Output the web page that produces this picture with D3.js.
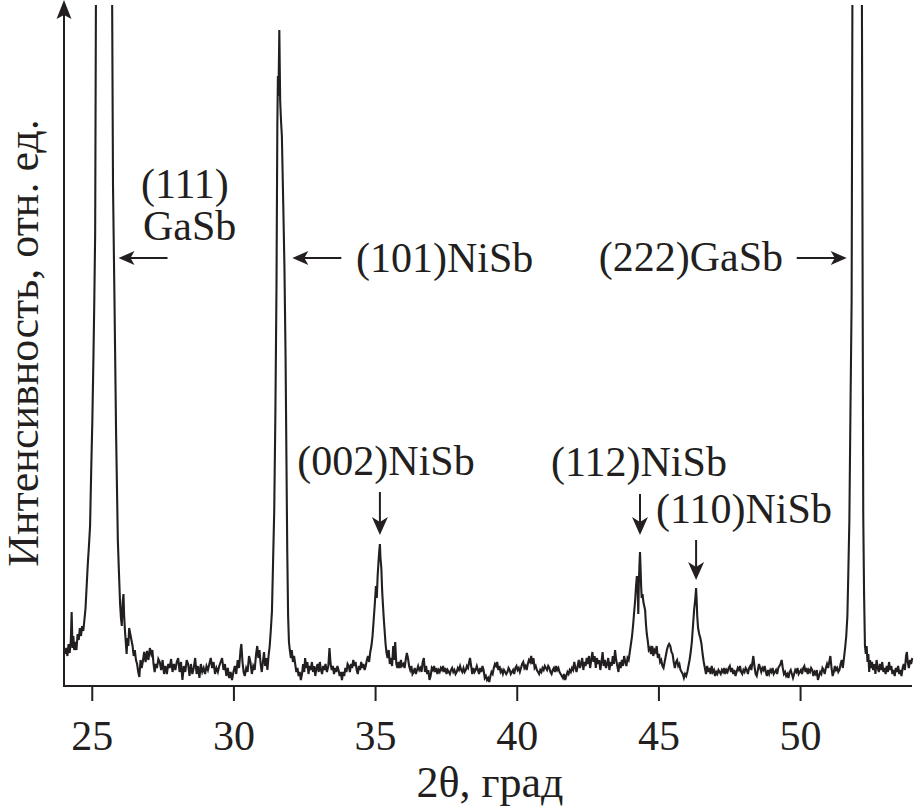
<!DOCTYPE html>
<html><head><meta charset="utf-8">
<script src="https://cdn.jsdelivr.net/npm/d3@7"></script>
<style>
html,body{margin:0;padding:0;background:#fff;}
svg text{font-family:"Liberation Serif","Times New Roman",serif;fill:#231f20;}
</style></head>
<body>
<svg id="chart" width="923" height="811"></svg>
<script>
// 2θ (degrees)
const twoTheta = [
24.06,24.10,24.14,24.18,24.22,24.26,24.29,24.32,24.35,24.38,24.42,24.46,24.50,24.54,24.58,24.62,24.66,24.70,24.74,24.78,
24.82,24.86,24.90,24.94,24.98,25.02,25.06,25.09,25.12,25.16,25.30,25.45,25.60,25.70,25.75,25.80,25.86,25.92,25.96,26.00,
26.03,26.06,26.09,26.12,26.14,26.17,26.20,26.23,26.26,26.29,26.32,26.36,26.40,26.44,26.48,26.52,26.56,26.60,26.64,26.68,
26.72,26.76,26.80,26.85,26.90,26.95,27.00,27.05,27.10,27.14,27.18,27.22,27.26,27.30,27.35,27.40,27.45,27.50,27.55,27.60,
27.65,27.70,27.75,27.80,27.85,27.90,27.95,28.00,28.05,28.10,28.15,28.20,28.25,28.30,28.35,28.40,28.45,28.50,28.55,28.60,
28.65,28.70,28.75,28.80,28.85,28.90,28.95,29.00,29.05,29.10,29.15,29.20,29.25,29.30,29.35,29.40,29.45,29.50,29.55,29.60,
29.65,29.70,29.75,29.80,29.85,29.90,29.95,30.00,30.05,30.10,30.15,30.20,30.25,30.28,30.32,30.36,30.40,30.45,30.50,30.55,
30.60,30.65,30.70,30.75,30.80,30.84,30.88,30.92,30.96,31.00,31.04,31.08,31.12,31.16,31.20,31.24,31.28,31.32,31.36,31.40,
31.44,31.48,31.52,31.55,31.57,31.59,31.62,31.65,31.68,31.71,31.76,31.80,31.84,31.87,31.90,31.93,31.96,31.99,32.03,32.06,
32.10,32.14,32.18,32.22,32.26,32.30,32.34,32.38,32.42,32.46,32.50,32.53,32.57,32.61,32.65,32.69,32.73,32.77,32.81,32.85,
32.89,32.93,32.97,33.01,33.05,33.09,33.13,33.17,33.21,33.25,33.30,33.35,33.39,33.43,33.47,33.51,33.55,33.59,33.63,33.67,
33.71,33.75,33.79,33.83,33.87,33.91,33.95,33.99,34.03,34.07,34.11,34.15,34.19,34.23,34.27,34.31,34.35,34.39,34.43,34.47,
34.51,34.55,34.59,34.63,34.67,34.71,34.75,34.79,34.83,34.87,34.91,34.95,34.99,35.03,35.06,35.09,35.12,35.15,35.17,35.19,
35.22,35.25,35.28,35.31,35.34,35.37,35.40,35.44,35.48,35.52,35.56,35.60,35.64,35.67,35.71,35.75,35.79,35.83,35.87,35.91,
35.95,36.00,36.04,36.08,36.12,36.16,36.20,36.24,36.28,36.32,36.36,36.40,36.44,36.48,36.52,36.56,36.60,36.64,36.68,36.72,
36.76,36.80,36.84,36.88,36.92,36.96,37.00,37.04,37.08,37.12,37.16,37.20,37.24,37.28,37.32,37.36,37.40,37.44,37.48,37.52,
37.56,37.60,37.64,37.68,37.72,37.76,37.80,37.84,37.88,37.92,37.96,38.00,38.04,38.08,38.12,38.16,38.20,38.24,38.28,38.32,
38.35,38.39,38.43,38.47,38.51,38.55,38.59,38.63,38.67,38.71,38.75,38.79,38.83,38.87,38.91,38.95,38.99,39.03,39.07,39.11,
39.15,39.19,39.23,39.27,39.31,39.35,39.39,39.43,39.47,39.51,39.55,39.59,39.63,39.67,39.71,39.75,39.79,39.83,39.87,39.91,
39.95,39.99,40.03,40.07,40.11,40.15,40.19,40.23,40.27,40.31,40.35,40.39,40.43,40.47,40.51,40.55,40.59,40.63,40.67,40.71,
40.75,40.79,40.83,40.87,40.91,40.95,40.99,41.03,41.07,41.11,41.15,41.19,41.23,41.27,41.31,41.35,41.39,41.43,41.47,41.51,
41.55,41.59,41.63,41.67,41.71,41.75,41.79,41.83,41.87,41.91,41.95,41.99,42.03,42.07,42.11,42.15,42.19,42.23,42.27,42.31,
42.35,42.39,42.43,42.47,42.51,42.55,42.59,42.63,42.67,42.71,42.75,42.79,42.83,42.87,42.91,42.95,42.99,43.03,43.07,43.11,
43.15,43.19,43.23,43.27,43.31,43.35,43.39,43.43,43.47,43.51,43.55,43.59,43.63,43.67,43.71,43.75,43.79,43.83,43.87,43.91,
43.95,43.99,44.03,44.07,44.11,44.15,44.18,44.21,44.24,44.27,44.29,44.31,44.33,44.35,44.37,44.39,44.41,44.44,44.47,44.50,
44.53,44.56,44.59,44.62,44.66,44.70,44.74,44.78,44.82,44.86,44.90,44.94,44.98,45.02,45.06,45.10,45.14,45.18,45.22,45.26,
45.30,45.34,45.38,45.42,45.46,45.50,45.54,45.58,45.62,45.66,45.70,45.74,45.78,45.82,45.86,45.90,45.94,45.98,46.02,46.06,
46.10,46.14,46.18,46.22,46.26,46.29,46.31,46.33,46.35,46.37,46.40,46.44,46.48,46.52,46.56,46.60,46.64,46.68,46.72,46.76,
46.80,46.84,46.88,46.92,46.96,47.00,47.04,47.08,47.12,47.16,47.20,47.24,47.28,47.32,47.36,47.40,47.44,47.48,47.52,47.56,
47.60,47.64,47.68,47.72,47.76,47.80,47.84,47.88,47.92,47.96,48.00,48.04,48.08,48.12,48.16,48.20,48.24,48.28,48.32,48.35,
48.39,48.43,48.47,48.51,48.55,48.59,48.63,48.67,48.71,48.75,48.79,48.83,48.87,48.91,48.95,48.99,49.03,49.07,49.11,49.15,
49.19,49.23,49.27,49.31,49.35,49.39,49.43,49.47,49.51,49.55,49.59,49.63,49.67,49.71,49.75,49.79,49.83,49.87,49.91,49.95,
49.99,50.03,50.07,50.11,50.15,50.19,50.23,50.27,50.31,50.35,50.39,50.43,50.47,50.51,50.55,50.59,50.63,50.67,50.71,50.75,
50.79,50.83,50.87,50.91,50.95,50.99,51.03,51.07,51.11,51.15,51.19,51.23,51.27,51.31,51.35,51.39,51.43,51.47,51.51,51.55,
51.59,51.63,51.67,51.70,51.74,51.78,51.82,51.85,51.95,52.05,52.15,52.18,52.21,52.23,52.26,52.29,52.32,52.35,52.38,52.41,
52.44,52.47,52.50,52.54,52.58,52.62,52.66,52.70,52.74,52.78,52.82,52.86,52.90,52.94,52.98,53.02,53.06,53.10,53.14,53.18,
53.22,53.26,53.30,53.34,53.38,53.42,53.46,53.50,53.54,53.58,53.62,53.66,53.70,53.74,53.77,53.80,53.84,53.88,53.92,53.96
];
// Intensity (arb. units)
const intensity = [
32,38,30,42,33,45,74,38,50,36,44,36,52,46,58,50,60,55,66,78,
100,122,140,160,215,265,330,386,453,800,1500,2000,1500,800,500,390,250,146,113,82,
68,60,84,92,72,56,44,32,48,40,58,52,46,40,30,36,26,22,14,9,
26,18,24,34,24,35,26,38,32,36,22,14,22,18,27,24,16,26,12,20,
12,22,18,27,14,22,16,24,28,14,24,6,20,14,26,22,10,22,12,18,
28,12,20,8,22,14,18,12,20,16,22,28,18,24,12,18,14,20,24,28,
16,22,10,18,8,14,6,14,20,12,26,18,36,42,24,14,10,18,14,30,
24,12,20,16,32,40,28,36,22,14,24,34,20,28,16,30,40,56,75,125,
175,270,400,560,610,590,656,585,565,550,480,420,330,230,135,70,44,36,28,36,
24,30,22,14,18,10,14,6,12,22,14,28,18,24,12,20,16,24,14,20,
10,18,22,14,24,16,12,20,16,22,14,20,38,22,16,20,12,18,14,20,
16,10,14,6,14,10,18,14,22,20,14,22,18,26,20,24,16,12,20,16,
24,18,22,16,20,26,30,24,34,40,50,66,82,100,88,110,124,136,142,128,
118,95,80,66,54,42,34,28,36,22,28,20,40,26,44,22,18,24,18,26,
20,22,18,26,33,28,20,16,20,12,14,18,12,16,20,16,18,14,24,28,
14,20,12,16,6,10,18,16,20,14,18,12,16,14,18,16,20,14,18,12,
16,14,12,16,18,14,16,12,14,18,16,20,16,14,18,14,16,20,18,24,
28,20,12,18,14,16,20,16,12,18,14,20,16,8,10,6,8,4,10,14,
12,18,22,20,24,16,20,14,16,12,16,14,12,14,18,16,12,14,16,12,
18,20,16,18,14,18,22,24,18,20,16,22,26,24,30,22,28,18,20,16,
14,12,16,14,18,16,20,18,16,20,18,14,12,16,18,14,20,16,18,14,
12,10,8,12,6,10,14,12,16,14,18,16,24,18,14,20,26,18,22,28,
16,24,20,28,22,30,18,26,34,24,30,18,28,22,26,16,24,34,20,26,
18,22,28,16,24,20,30,22,36,26,20,14,24,18,26,20,30,24,20,28,
26,34,42,50,62,76,86,100,110,96,72,104,120,134,118,100,88,92,84,80,
76,62,52,46,36,38,32,40,30,36,34,40,28,32,24,26,20,18,24,30,
36,40,42,40,34,32,24,18,24,26,20,22,16,14,12,8,12,10,14,20,
26,34,44,60,76,84,90,98,86,70,58,52,48,42,32,24,18,12,20,14,
18,12,20,14,16,10,14,12,16,14,12,16,14,18,12,16,14,18,20,14,
18,12,16,10,14,18,16,20,14,12,16,14,18,16,12,18,20,16,24,30,
20,12,10,16,22,18,14,18,16,20,14,10,16,12,16,14,18,12,14,16,
12,18,20,22,26,18,12,14,10,12,8,14,16,12,8,12,16,14,18,12,
14,16,12,18,20,14,18,12,16,14,18,16,10,14,12,16,6,10,14,12,
18,16,12,18,22,18,24,30,18,10,14,20,16,18,14,16,22,26,18,28,
38,50,70,109,166,280,386,720,2000,2500,1500,720,380,170,90,40,32,40,24,32,
14,26,18,24,16,22,12,26,18,14,22,16,24,14,18,12,20,14,24,16,
20,12,16,10,18,14,20,12,16,10,18,22,16,30,34,24,18,26,22,28
];
const xTicks = [25, 30, 35, 40, 45, 50];
const xTitle = "2θ, град";
const yTitle = "Интенсивность, отн. ед.";
const peakLabels = [
  {lines:["(111)","GaSb"], peak:25.45, kind:"left"},
  {lines:["(101)NiSb"], peak:31.62, kind:"left"},
  {lines:["(222)GaSb"], peak:52.0, kind:"right"},
  {lines:["(002)NiSb"], peak:35.17, kind:"down"},
  {lines:["(112)NiSb"], peak:44.35, kind:"down"},
  {lines:["(110)NiSb"], peak:46.33, kind:"down"}
];

(function(){
const n = Math.min(twoTheta.length, intensity.length);
const data = twoTheta.slice(0,n).map((t,i)=>({t, v:intensity[i]}));
const svg = d3.select("#chart");
const ink = "#231f20";
const pL = 64, pR = 913.4, pB = 686, pT = 5;

const x = d3.scaleLinear().domain([24.02, 54]).range([pL, pR]);
const y = d3.scaleLinear().domain([0, 681]).range([pB, pT]);

svg.append("defs").append("clipPath").attr("id","plotclip")
  .append("rect").attr("x", pL).attr("y", pT).attr("width", pR-pL).attr("height", pB-pT);

// spectrum
const line = d3.line().x(d=>x(d.t)).y(d=>y(d.v));
svg.append("path").datum(data)
  .attr("clip-path","url(#plotclip)")
  .attr("fill","none").attr("stroke", ink).attr("stroke-width",2.1)
  .attr("stroke-linejoin","miter")
  .attr("d", line);

// x axis
const xAxis = svg.append("g").attr("transform",`translate(0,${pB})`)
  .call(d3.axisBottom(x).tickValues(xTicks).tickSize(15).tickSizeOuter(0).tickFormat(d3.format("d")));
xAxis.select(".domain").attr("stroke", ink).attr("stroke-width",2)
  .attr("d", `M${pL},0H${x(53.95)}`);
xAxis.selectAll(".tick line").attr("stroke", ink).attr("stroke-width",2);
xAxis.selectAll(".tick text").attr("y", 64).attr("dy", 0)
  .attr("font-size", 42).attr("fill", ink);

// y axis with arrow
const yAxis = svg.append("g").attr("transform",`translate(${pL},0)`)
  .call(d3.axisLeft(y).tickValues([]).tickSizeOuter(0));
yAxis.select(".domain").attr("stroke", ink).attr("stroke-width",2)
  .attr("d", `M0,${pB+1}V12`);
yAxis.append("path").attr("d","M0,0L-7.5,19L0,15L7.5,19Z").attr("fill", ink);

// titles
svg.append("text").attr("x", 490).attr("y", 797).attr("text-anchor","middle")
  .attr("font-size", 44).text(xTitle);
svg.append("text").attr("transform","translate(38,343) rotate(-90)")
  .attr("text-anchor","middle").attr("font-size", 44).text(yTitle);

// annotations
const fs = 42;
function hArrow(g, tipX, tailX, yy){
  const dir = tailX > tipX ? 1 : -1;
  g.append("line").attr("x1", tailX).attr("y1", yy).attr("x2", tipX + dir*10).attr("y2", yy)
    .attr("stroke", ink).attr("stroke-width",2);
  g.append("path").attr("fill", ink)
    .attr("d", `M${tipX},${yy}L${tipX+dir*16},${yy-7}L${tipX+dir*12},${yy}L${tipX+dir*16},${yy+7}Z`);
}
function vArrow(g, xx, y1, tipY){
  g.append("line").attr("x1", xx).attr("y1", y1).attr("x2", xx).attr("y2", tipY-10)
    .attr("stroke", ink).attr("stroke-width",2);
  g.append("path").attr("fill", ink)
    .attr("d", `M${xx},${tipY}L${xx-8},${tipY-18}L${xx},${tipY-13}L${xx+8},${tipY-18}Z`);
}
const ann = svg.append("g");
{
  const p = peakLabels[0];
  ann.append("text").attr("x", 141).attr("y", 198).attr("font-size", fs).text(p.lines[0]);
  ann.append("text").attr("x", 143).attr("y", 240).attr("font-size", fs).text(p.lines[1]);
  hArrow(ann, x(p.peak)+14, x(p.peak)+63, 258);
}
{
  const p = peakLabels[1];
  ann.append("text").attr("x", 356).attr("y", 272).attr("font-size", fs).text(p.lines[0]);
  hArrow(ann, x(p.peak)+13, x(p.peak)+62, 258);
}
{
  const p = peakLabels[2];
  ann.append("text").attr("x", 783).attr("y", 271).attr("text-anchor","end").attr("font-size", fs).text(p.lines[0]);
  hArrow(ann, x(p.peak)-10, x(p.peak)-60, 258);
}
{
  const p = peakLabels[3];
  ann.append("text").attr("x", 386).attr("y", 475).attr("text-anchor","middle").attr("font-size", fs).text(p.lines[0]);
  vArrow(ann, x(p.peak), 492, 535);
}
{
  const p = peakLabels[4];
  ann.append("text").attr("x", 639).attr("y", 476).attr("text-anchor","middle").attr("font-size", fs).text(p.lines[0]);
  vArrow(ann, x(p.peak), 494, 535);
}
{
  const p = peakLabels[5];
  ann.append("text").attr("x", 744).attr("y", 523).attr("text-anchor","middle").attr("font-size", fs).text(p.lines[0]);
  vArrow(ann, x(p.peak), 540, 580);
}
})();
</script>
</body></html>
